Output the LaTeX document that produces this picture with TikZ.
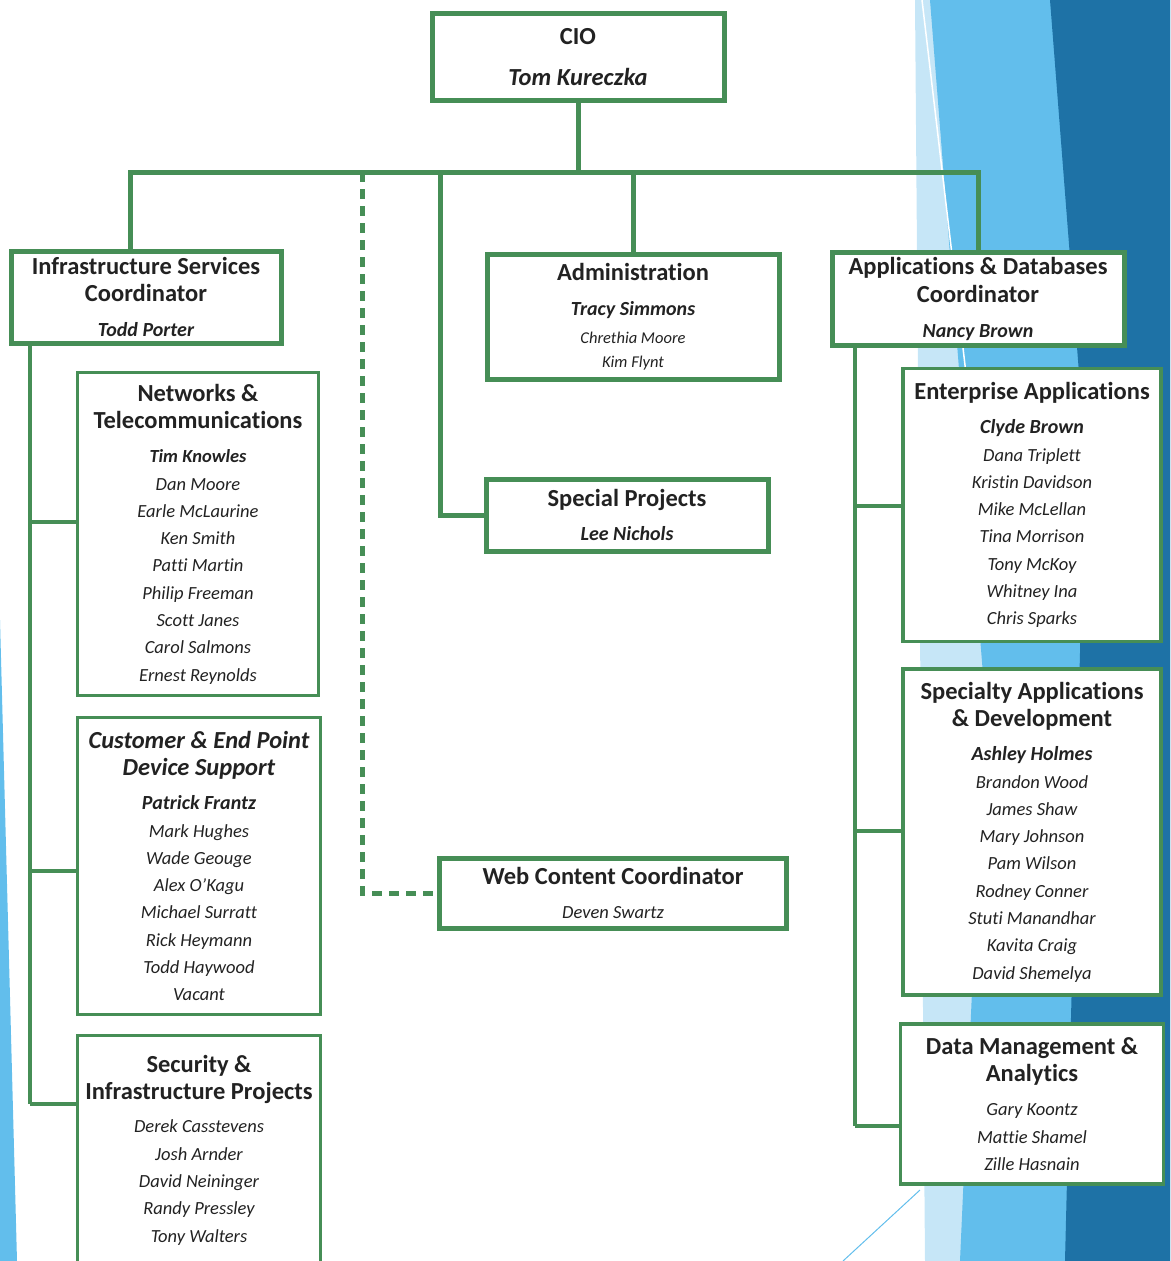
\documentclass[tikz,border=0pt]{standalone}
\usepackage{fontspec}
\setmainfont[Ligatures={NoCommon}]{Carlito}
\usepackage{xcolor}
\usepackage{tikz}
\definecolor{boxgreen}{RGB}{70,142,86}
\definecolor{skyblue}{RGB}{98,190,236}
\definecolor{paleblue}{RGB}{198,230,247}
\definecolor{deepblue}{RGB}{30,114,166}
\definecolor{inkgray}{RGB}{34,34,34}
\newcommand{\ttl}[1]{{\fontsize{24.5}{26}\selectfont\bfseries\upshape #1}}
\newcommand{\ttli}[1]{{\fontsize{24.5}{26}\selectfont\bfseries\itshape #1}}
\newcommand{\lead}[1]{{\fontsize{20}{26}\selectfont\bfseries #1}}
\newcommand{\minor}[1]{{\fontsize{16.5}{20}\selectfont #1}}
\tikzset{
  unitbox/.style={draw=boxgreen, fill=white, line width=3.5pt, inner sep=0pt,
    align=center, text=inkgray, font=\fontsize{18.5}{27.3}\selectfont\itshape},
  headbox/.style={unitbox, line width=5pt},
  dims/.style 2 args={minimum width=#1pt, minimum height=#2pt},
  trunk/.style={draw=boxgreen, line width=5pt},
  branch/.style={draw=boxgreen, line width=3.5pt}
}

\begin{document}
\begin{tikzpicture}[x=1pt, y=-1pt]
        \useasboundingbox (0,0) rectangle (1170,1261);

        % Background facets
        \fill[paleblue] (915,0) -- (1170,0) -- (1170,1261) -- (925,1261) -- cycle;
        \fill[skyblue] (930,0) -- (1170,0) -- (1170,1261) -- (960,1261) -- (985,700) -- cycle;
        \fill[deepblue] (1050,0) -- (1170,0) -- (1170,1261) -- (1065,1261) -- (1085,450) -- cycle;
        \draw[white, line width=1.5pt] (922,0) -- (975,450);
        \draw[skyblue, line width=1pt] (920,1190) -- (843,1261);
        \fill[skyblue] (0,620) -- (0,1261) -- (17,1261) -- cycle;

        % Define the positions of the nodes
        \node[headbox, dims={292}{87}] (cio) at (578,57)
          {\ttl{CIO}\\[13pt]{\fontsize{24.5}{26}\selectfont\bfseries Tom Kureczka}};
        \node[headbox, dims={270}{92}] (infra) at (146,297)
          {\ttl{Infrastructure Services}\\\ttl{Coordinator}\\[8pt]\lead{Todd Porter}};
        \node[headbox, dims={292}{125}] (admin) at (633,317)
          {\ttl{Administration}\\[7pt]\lead{Tracy Simmons}\\[1pt]\minor{Chrethia Moore}\\[-3pt]\minor{Kim Flynt}};
        \node[headbox, dims={292}{93}] (apps) at (978,299)
          {\ttl{Applications \& Databases}\\\ttl{Coordinator}\\[8pt]\lead{Nancy Brown}};
        \node[headbox, dims={282}{72}] (special) at (627,515)
          {\ttl{Special Projects}\\[7pt]\lead{Lee Nichols}};
        \node[headbox, dims={347}{70}] (web) at (613,893)
          {\ttl{Web Content Coordinator}\\[6pt]Deven Swartz};

        \node[unitbox, dims={241}{323}] (net) at (198,534)
          {\ttl{Networks \&}\\\ttl{Telecommunications}\\[7pt]{\fontsize{18.5}{26}\selectfont\bfseries Tim Knowles}\\Dan Moore\\Earle McLaurine\\Ken Smith\\Patti Martin\\Philip Freeman\\Scott Janes\\Carol Salmons\\Ernest Reynolds};
        \node[unitbox, dims={243}{297}] (cust) at (199,866)
          {\ttli{Customer \& End Point}\\\ttli{Device Support}\\[7pt]\lead{Patrick Frantz}\\Mark Hughes\\Wade Geouge\\Alex O’Kagu\\Michael Surratt\\Rick Heymann\\Todd Haywood\\Vacant};
        \node[unitbox, dims={243}{229}] (sec) at (199,1150)
          {\ttl{Security \&}\\\ttl{Infrastructure Projects}\\[6pt]Derek Casstevens\\Josh Arnder\\David Neininger\\Randy Pressley\\Tony Walters};

        \node[unitbox, dims={258}{273}] (ent) at (1032,505)
          {\ttl{Enterprise Applications}\\[7pt]\lead{Clyde Brown}\\Dana Triplett\\Kristin Davidson\\Mike McLellan\\Tina Morrison\\Tony McKoy\\Whitney Ina\\Chris Sparks};
        \node[unitbox, dims={258}{326}] (spec) at (1032,832)
          {\ttl{Specialty Applications}\\\ttl{\& Development}\\[7pt]\lead{Ashley Holmes}\\Brandon Wood\\James Shaw\\Mary Johnson\\Pam Wilson\\Rodney Conner\\Stuti Manandhar\\Kavita Craig\\David Shemelya};
        \node[unitbox, dims={263}{160}] (data) at (1032,1104)
          {\ttl{Data Management \&}\\\ttl{Analytics}\\[7pt]Gary Koontz\\Mattie Shamel\\Zille Hasnain};

        % Junction points
        \coordinate (busL) at (130,172);
        \coordinate (busR) at (978,172);
        \coordinate (busS) at (440,172);
        \coordinate (busW) at (362,172);
        \coordinate (lspine) at (30,1104);
        \coordinate (rspine) at (855,1126);

        % Draw the edges
        \draw[trunk] (cio) -- (cio |- busL);
        \draw[trunk] (infra.north -| busL) -- (busL) -- (busR) -- (apps);
        \draw[trunk] (admin.north |- busL) -- (admin);
        \draw[trunk] (busS) |- (special.west);
        \draw[trunk, dash pattern=on 10pt off 7pt] (busW) |- (web.west);

        \draw[branch] (infra.south -| lspine) -- (lspine);
        \draw[branch] (apps.south -| rspine) -- (rspine);
        \foreach \to/\yy in {net/522, cust/871, sec/1104}
          \draw[branch] (30,\yy) -- (\to.west |- 0,\yy);
        \foreach \to/\yy in {ent/506, spec/831, data/1126}
          \draw[branch] (855,\yy) -- (\to.west |- 0,\yy);
\end{tikzpicture}
\end{document}
